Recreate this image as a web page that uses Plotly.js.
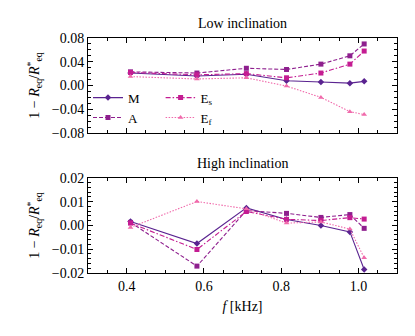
<!DOCTYPE html>
<html>
<head>
<meta charset="utf-8">
<script src="https://cdn.plot.ly/plotly-3.0.1.min.js"></script>
<style>html,body{margin:0;padding:0;background:#fff;}#chart{width:415px;height:336px;}</style>
</head>
<body>
<div id="chart"></div>
<script>
// frequencies [kHz]
const freq = [0.41, 0.582, 0.71, 0.814, 0.903, 0.978, 1.015];

// Low inclination: 1 - Req/Req*
const lowM  = [0.021, 0.016, 0.019, 0.008, 0.006, 0.004, 0.007];
const lowA  = [0.023, 0.021, 0.029, 0.027, 0.036, 0.050, 0.070];
const lowEs = [0.022, 0.018, 0.020, 0.013, 0.021, 0.036, 0.058];
const lowEf = [0.015, 0.011, 0.013, -0.001, -0.020, -0.044, -0.049];

// High inclination
const highM  = [0.0017, -0.0076, 0.0074, 0.0025, 0.0000, -0.0027, -0.0185];
const highA  = [0.0013, -0.0171, 0.0063, 0.0051, 0.0034, 0.0046, -0.0012];
const highEs = [0.0010, -0.0101, 0.0059, 0.0026, 0.0021, 0.0033, 0.0027];
const highEf = [-0.0008, 0.0101, 0.0070, 0.0010, 0.0015, -0.0015, -0.0136];

const names = ['M', 'A', 'E<sub>s</sub>', 'E<sub>f</sub>'];
const colors = ['#5a2390', '#8e1f8e', '#c41c92', '#f06aab'];
const dashes = ['solid', '4px,2px', '5px,2px,1.5px,2px', '1.5px,1.5px'];
const symbols = ['diamond', 'square', 'square', 'triangle-up'];
const legends = ['legend', 'legend', 'legend2', 'legend2'];

const lowSets = [lowM, lowA, lowEs, lowEf];
const highSets = [highM, highA, highEs, highEf];

const traces = [];
lowSets.forEach((ys, i) => {
  traces.push({
    x: freq, y: ys, name: names[i], type: 'scatter', mode: 'lines+markers',
    xaxis: 'x', yaxis: 'y', legend: legends[i],
    line: {color: colors[i], width: 1.1, dash: dashes[i]},
    marker: {color: colors[i], symbol: symbols[i], size: 5}
  });
});
highSets.forEach((ys, i) => {
  traces.push({
    x: freq, y: ys, name: names[i], type: 'scatter', mode: 'lines+markers',
    xaxis: 'x2', yaxis: 'y2', showlegend: false,
    line: {color: colors[i], width: 1.1, dash: dashes[i]},
    marker: {color: colors[i], symbol: symbols[i], size: 5}
  });
});

const font = {family: 'Liberation Serif, Times New Roman, serif', size: 14, color: '#000'};
const ytitle = '1 − <i>R</i><sub>eq</sub>/<i>R</i><sup>*</sup><sub>eq</sub>';

const axisBase = {
  showgrid: false, zeroline: false, showline: true, linecolor: '#000', linewidth: 1,
  mirror: 'allticks', ticks: 'inside', ticklen: 5, tickwidth: 1, tickcolor: '#000'
};

const layout = {
  width: 415, height: 336,
  margin: {l: 88, r: 18, t: 38, b: 63},
  paper_bgcolor: '#fff', plot_bgcolor: '#fff',
  font: font,
  xaxis: Object.assign({}, axisBase, {
    domain: [0, 1], range: [0.3, 1.1], anchor: 'y', dtick: 0.2, tick0: 0,
    showticklabels: false,
    minor: {dtick: 0.05, ticklen: 3, ticks: 'inside', tickcolor: '#000'}
  }),
  yaxis: Object.assign({}, axisBase, {
    domain: [0.5957, 1], range: [-0.08, 0.08], anchor: 'x', dtick: 0.04, tick0: 0,
    tickformat: '.2f',
    minor: {dtick: 0.01, ticklen: 3, ticks: 'inside', tickcolor: '#000'},
    title: {text: ytitle, font: font, standoff: 8}
  }),
  xaxis2: Object.assign({}, axisBase, {
    domain: [0, 1], range: [0.3, 1.1], anchor: 'y2', dtick: 0.2, tick0: 0,
    tickformat: '.1f',
    minor: {dtick: 0.05, ticklen: 3, ticks: 'inside', tickcolor: '#000'},
    title: {text: '<i>f</i> [kHz]', font: font, standoff: 8}
  }),
  yaxis2: Object.assign({}, axisBase, {
    domain: [0, 0.4043], range: [-0.02, 0.02], anchor: 'x2', dtick: 0.01, tick0: 0,
    tickformat: '.2f',
    minor: {dtick: 0.002, ticklen: 3, ticks: 'inside', tickcolor: '#000'},
    title: {text: ytitle, font: font, standoff: 8}
  }),
  legend: {
    x: 0.0, y: 0.81, xanchor: 'left', yanchor: 'top',
    bgcolor: 'rgba(0,0,0,0)', font: {family: font.family, size: 13, color: '#000'},
    tracegroupgap: 0, itemwidth: 30
  },
  legend2: {
    x: 0.235, y: 0.81, xanchor: 'left', yanchor: 'top',
    bgcolor: 'rgba(0,0,0,0)', font: {family: font.family, size: 13, color: '#000'},
    tracegroupgap: 0, itemwidth: 30
  },
  annotations: [
    {text: 'Low inclination', xref: 'paper', yref: 'paper', x: 0.5, y: 1.06,
     xanchor: 'center', yanchor: 'middle', showarrow: false, font: font},
    {text: 'High inclination', xref: 'paper', yref: 'paper', x: 0.5, y: 0.464,
     xanchor: 'center', yanchor: 'middle', showarrow: false, font: font}
  ]
};

Plotly.newPlot('chart', traces, layout, {displayModeBar: false, staticPlot: true});
</script>
</body>
</html>
